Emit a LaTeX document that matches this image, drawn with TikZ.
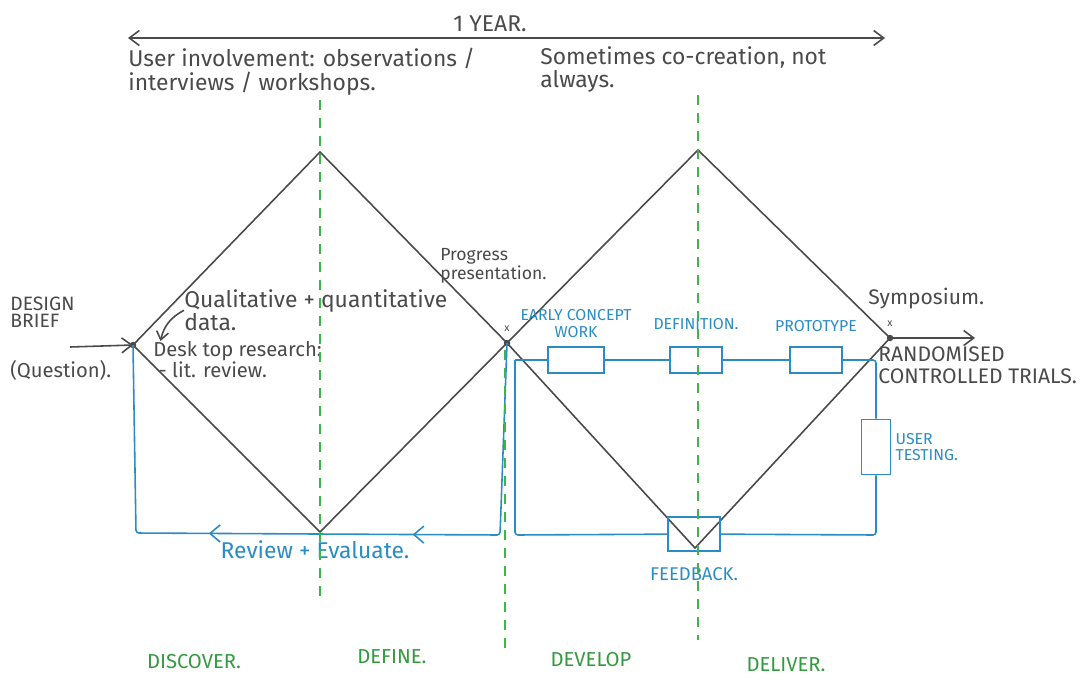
\documentclass[tikz,border=0pt]{standalone}
\usepackage{fontspec}
\setmainfont{Fira Sans}
\usepackage{tikz}
\usetikzlibrary{arrows.meta}
\usetikzlibrary{decorations.markings}
\usetikzlibrary{positioning}
\definecolor{inkgrey}{HTML}{4A4A4A}
\definecolor{penblue}{HTML}{2B8CC4}
\definecolor{pengreen}{HTML}{3DB54A}
\tikzset{phase/.style={draw=inkgrey,line width=0.9pt}}
\tikzset{loopline/.style={draw=penblue,line width=0.9pt,rounded corners=0.6mm}}
\tikzset{stagebox/.style={draw=penblue,line width=0.9pt,inner sep=0pt,minimum width=10.4mm,minimum height=5.2mm}}
\tikzset{divider/.style={draw=pengreen,line width=0.7pt,dash pattern=on 2mm off 1.6mm}}
\tikzset{note/.style={text=inkgrey,align=left,inner sep=0pt,font=\fontsize{13}{13.5}\selectfont}}
\tikzset{bluenote/.style={text=penblue,align=center,inner sep=0pt,font=\fontsize{9}{9.5}\selectfont}}
\tikzset{greennote/.style={text=pengreen!85!black,inner sep=0pt,font=\fontsize{11.5}{12}\selectfont}}
\tikzset{vertex/.style={circle,fill=inkgrey,inner sep=0pt,minimum size=1.3mm}}
\tikzset{xmark/.style={text=inkgrey,inner sep=0pt,font=\fontsize{6}{6}\selectfont}}

\begin{document}
\begin{tikzpicture}[x=0.2mm,y=-0.2mm]
\useasboundingbox (0,0) rectangle (1081,686);

% corners of the two diamonds
\coordinate (D1l) at (133,345);
\coordinate (D1t) at (320,152);
\coordinate (D1r) at (507,343);
\coordinate (D1b) at (320,532);
\coordinate (D2t) at (698,150);
\coordinate (D2r) at (890,338);
\coordinate (D2b) at (695,548);

\draw[phase] (D1l) -- (D1t) -- (D1r) -- (D1b) -- cycle;
\draw[phase] (D1r) -- (D2t) -- (D2r) -- (D2b) -- cycle;
\foreach \v in {D1l,D1r,D2r}
{
	\node[vertex] at (\v) {};
}
\node[xmark,above=2.2mm of D1r] (xprog) {x};
\node[xmark,above=2.2mm of D2r] (xsymp) {x};

% time line over the top
\coordinate (Ts) at (128,38);
\coordinate (Te) at (885,38);
\draw[phase,{Straight Barb[length=2mm,width=3mm]}-{Straight Barb[length=2mm,width=3mm]}] (Ts) -- (Te);
\node[note] (year) at (490,24) {1 YEAR.};
\node[note,anchor=north west] (involve) at (128,48) {User involvement: observations /\\interviews / workshops.};
\node[note,anchor=north west] (cocreate) at (540,46) {Sometimes co-creation, not\\always.};

% brief coming in
\node[note,anchor=west,font=\fontsize{11}{9.5}\selectfont] (brief) at (10,312) {DESIGN\\BRIEF};
\node[note,anchor=west,font=\fontsize{11.5}{12}\selectfont] (question) at (10,370) {(Question).};
\coordinate (Bs) at (70,347);
\draw[phase,-{Straight Barb[length=2mm,width=3mm]}] (Bs) -- (D1l);

\node[note,anchor=north west,font=\fontsize{13}{10.5}\selectfont] (quali) at (184,289) {Qualitative + quantitative\\data.};
\node[note,anchor=north west,font=\fontsize{11.5}{12}\selectfont] (desk) at (153,341) {Desk top research:\\\ - lit. review.};
\draw[phase,-{Straight Barb[length=1.6mm,width=2.4mm]}] (quali.west) to[bend right=25] ([xshift=1.5mm]desk.north west);

\node[note,anchor=north west,font=\fontsize{10}{9}\selectfont] (prog) at (440,248) {Progress\\presentation.};
\node[note,anchor=north west,font=\fontsize{12}{12}\selectfont] (symp) at (868,288) {Symposium.};
\node[note,anchor=north west,font=\fontsize{12}{12.5}\selectfont] (rct) at (878,346) {RANDOMISED\\CONTROLLED TRIALS.};
\coordinate (Re) at (975,338);
\draw[phase,-{Straight Barb[length=2mm,width=3mm]}] (D2r) -- (Re);

% review loop under the first diamond
\coordinate (R1a) at (500,535);
\coordinate (R1b) at (136,533);
\draw[loopline] (D1r) -- (R1a) -- (R1b) -- (D1l);
\path[postaction={decorate},decoration={markings,
	mark=at position 0.24 with {\arrow[penblue,line width=0.9pt]{Straight Barb[length=2mm,width=3.4mm]}},
	mark=at position 0.80 with {\arrow[penblue,line width=0.9pt]{Straight Barb[length=2mm,width=3.4mm]}}}] (R1a) -- (R1b);
\node[bluenote,font=\fontsize{13}{13}\selectfont] (review) at (315,550) {Review + Evaluate.};

% stages round the second diamond
\node[stagebox,minimum width=11.2mm] (early) at (576,360) {};
\node[stagebox] (defn) at (696,360) {};
\node[stagebox] (proto) at (816,360) {};
\node[stagebox,minimum width=5.8mm,minimum height=11mm] (usertest) at (876,447) {};
\node[stagebox,minimum height=6.8mm] (feedback) at (694,534) {};

\node[bluenote,above=1.6mm of early] (earlylbl) {EARLY CONCEPT\\WORK};
\node[bluenote,above=3.2mm of defn] (defnlbl) {DEFINITION.};
\node[bluenote,above=2.8mm of proto] (protolbl) {PROTOTYPE};
\node[bluenote,align=left,right=0.8mm of usertest] (utlbl) {USER\\TESTING.};
\node[bluenote,font=\fontsize{10.5}{11}\selectfont,below=3mm of feedback] (fblbl) {FEEDBACK.};

\coordinate (c1) at (515,360);
\coordinate (c2) at (876,360);
\coordinate (c3) at (876,535);
\coordinate (c4) at (515,535);
\draw[loopline] (c1) -- (early);
\draw[loopline] (early) -- (defn);
\draw[loopline] (defn) -- (proto);
\draw[loopline] (proto) -- (c2) -- (usertest);
\draw[loopline] (usertest) -- (c3) -- (feedback);
\draw[loopline] (feedback) -- (c4) -- (c1);

% phase dividers
\foreach \x / \top / \bot in {320/100/598, 505/350/650, 698/95/640}
{
	\draw[divider] (\x,\top) -- (\x,\bot);
}
\foreach \name / \x / \y [count=\i] in {DISCOVER./194/662, DEFINE./392/657, DEVELOP/591/660, DELIVER./786/665}
{
	\node[greennote] (ph\i) at (\x,\y) {\name};
}
\end{tikzpicture}
\end{document}
